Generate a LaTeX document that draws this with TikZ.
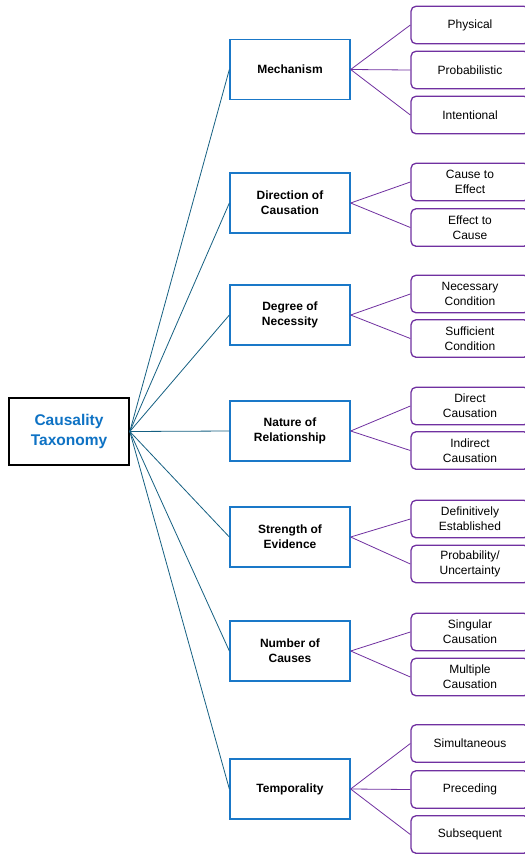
\documentclass[tikz,border=0pt]{standalone}
\usepackage{fontspec}
\setmainfont{Liberation Sans}
\definecolor{rootblue}{HTML}{0E72C4}
\definecolor{boxblue}{HTML}{1A78C8}
\definecolor{linkblue}{HTML}{156082}
\definecolor{leafpurple}{HTML}{7030A0}
\begin{document}
\begin{tikzpicture}[x=1pt, y=-1pt,
    rootbox/.style={draw=black, line width=1.6pt, minimum width=120pt, minimum height=67pt,
        align=center, font=\fontsize{15.5}{19.5}\selectfont\bfseries, text=rootblue},
    catbox/.style={draw=boxblue, line width=1.3pt, minimum width=120pt, minimum height=60pt,
        align=center, font=\fontsize{12}{15}\selectfont\bfseries},
    leafbox/.style={draw=leafpurple, line width=1.3pt, rounded corners=5pt, minimum width=118pt,
        minimum height=37.5pt, align=center, font=\fontsize{12}{15}\selectfont},
    catlink/.style={draw=linkblue, line width=0.8pt},
    leaflink/.style={draw=leafpurple, line width=0.8pt}]
%% page size and crop, the leaves run off the right edge
    \clip (0,0) rectangle (525,855);
    \fill[white] (0,0) rectangle (525,855);
%% root
    \node[rootbox] (root) at (69,431.5) {Causality\\Taxonomy};
%% categories
    \node[catbox] (mech) at (290,69.5) {Mechanism};
    \node[catbox] (dir) at (290,203) {Direction of\\Causation};
    \node[catbox] (deg) at (290,315) {Degree of\\Necessity};
    \node[catbox] (nat) at (290,431) {Nature of\\Relationship};
    \node[catbox] (str) at (290,537) {Strength of\\Evidence};
    \node[catbox] (num) at (290,651) {Number of\\Causes};
    \node[catbox] (temp) at (290,789) {Temporality};
%% leaves
    \node[leafbox] (phys) at (470,25) {Physical};
    \node[leafbox] (prob) at (470,70) {Probabilistic};
    \node[leafbox] (inten) at (470,115) {Intentional};
    \node[leafbox] (c2e) at (470,182) {Cause to\\Effect};
    \node[leafbox] (e2c) at (470,227.5) {Effect to\\Cause};
    \node[leafbox] (necc) at (470,294) {Necessary\\Condition};
    \node[leafbox] (suff) at (470,338.5) {Sufficient\\Condition};
    \node[leafbox] (direct) at (470,406) {Direct\\Causation};
    \node[leafbox] (indir) at (470,450.5) {Indirect\\Causation};
    \node[leafbox] (defin) at (470,519) {Definitively\\Established};
    \node[leafbox] (probu) at (470,564) {Probability/\\Uncertainty};
    \node[leafbox] (sing) at (470,632) {Singular\\Causation};
    \node[leafbox] (mult) at (470,677) {Multiple\\Causation};
    \node[leafbox] (simul) at (470,743.5) {Simultaneous};
    \node[leafbox] (prec) at (470,789.5) {Preceding};
    \node[leafbox] (subs) at (470,834.5) {Subsequent};
%% root to categories
    \draw[catlink] (root.east) -- (mech.west);
    \draw[catlink] (root.east) -- (dir.west);
    \draw[catlink] (root.east) -- (deg.west);
    \draw[catlink] (root.east) -- (nat.west);
    \draw[catlink] (root.east) -- (str.west);
    \draw[catlink] (root.east) -- (num.west);
    \draw[catlink] (root.east) -- (temp.west);
%% categories to leaves
    \draw[leaflink] (mech.east) -- (phys.west);
    \draw[leaflink] (mech.east) -- (prob.west);
    \draw[leaflink] (mech.east) -- (inten.west);
    \draw[leaflink] (dir.east) -- (c2e.west);
    \draw[leaflink] (dir.east) -- (e2c.west);
    \draw[leaflink] (deg.east) -- (necc.west);
    \draw[leaflink] (deg.east) -- (suff.west);
    \draw[leaflink] (nat.east) -- (direct.west);
    \draw[leaflink] (nat.east) -- (indir.west);
    \draw[leaflink] (str.east) -- (defin.west);
    \draw[leaflink] (str.east) -- (probu.west);
    \draw[leaflink] (num.east) -- (sing.west);
    \draw[leaflink] (num.east) -- (mult.west);
    \draw[leaflink] (temp.east) -- (simul.west);
    \draw[leaflink] (temp.east) -- (prec.west);
    \draw[leaflink] (temp.east) -- (subs.west);
\end{tikzpicture}
\end{document}
